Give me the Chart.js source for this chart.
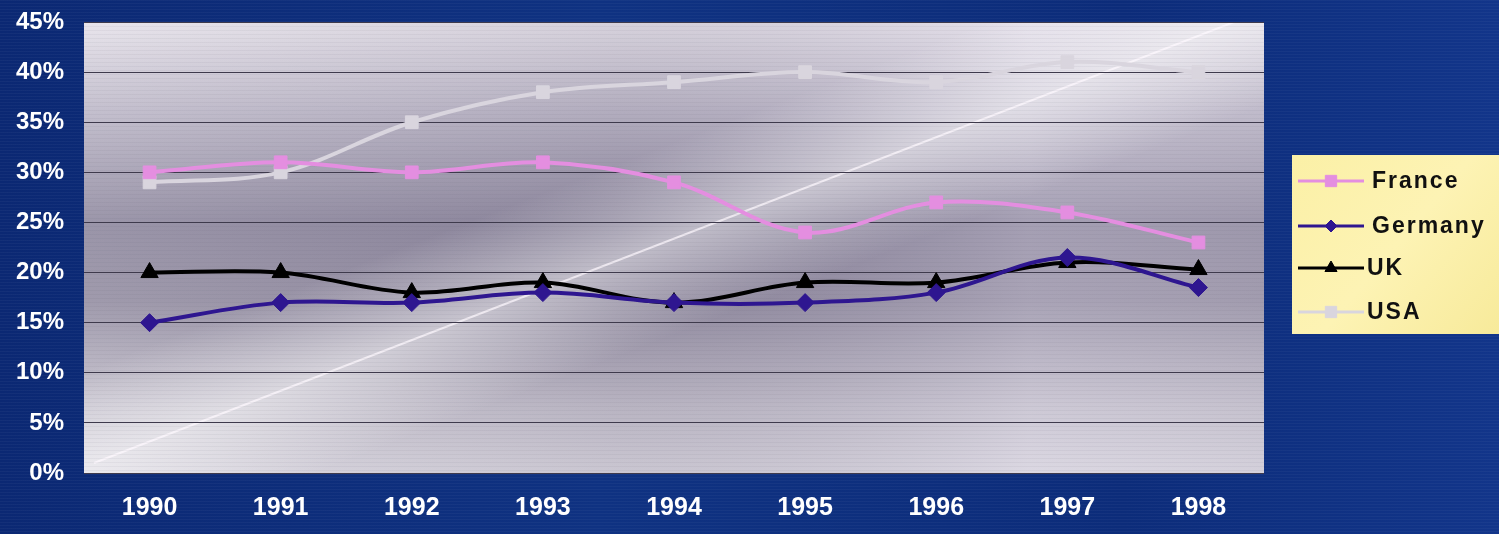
<!DOCTYPE html>
<html>
<head>
<meta charset="utf-8">
<script src="https://cdn.jsdelivr.net/npm/chart.js@4/dist/chart.umd.min.js"></script>
<style>
  html, body { margin: 0; padding: 0; }
  body {
    width: 1499px; height: 534px; overflow: hidden;
    background-color: #0c2b78;
    background-image:
      repeating-linear-gradient(180deg, rgba(255,255,255,0.035) 0px, rgba(255,255,255,0.035) 1px, rgba(0,0,0,0) 1px, rgba(0,0,0,0) 3px),
      linear-gradient(90deg, #0b2873 0%, #0f3282 40%, #0c2c7a 75%, #12358a 100%);
  }
  #wrap { position: absolute; left: 0; top: 0; width: 1499px; height: 534px; }
</style>
</head>
<body>
<div id="wrap"><canvas id="c" width="1499" height="534"></canvas></div>
<script>
const years = ['1990','1991','1992','1993','1994','1995','1996','1997','1998'];
const seriesNames = ['France', 'Germany', 'UK', 'USA'];
const france  = [30, 31, 30, 31, 29, 24, 27, 26, 23];
const germany = [15, 17, 17, 18, 17, 17, 18, 21.5, 18.5];
const uk      = [20, 20, 18, 19, 17, 19, 19, 21, 20.3];
const usa     = [29, 30, 35, 38, 39, 40, 39, 41, 40];
const yTicks  = [0, 5, 10, 15, 20, 25, 30, 35, 40, 45];

const colors  = ['#e48ee0', '#2e1690', '#000000', '#d9d5de'];
const markers = ['rect', 'rectRot', 'triangle', 'rect'];
const sizes   = [9, 9, 10, 9];
const legendSizes = [8, 6, 7, 8];

const plotBg = {
  id: 'plotBg',
  beforeDraw(chart) {
    const {ctx, chartArea: a} = chart;
    const w = a.right - a.left, h = a.bottom - a.top;
    ctx.save();
    let g = ctx.createLinearGradient(0, a.top, 0, a.bottom);
    g.addColorStop(0, '#e6e2ea');
    g.addColorStop(0.2, '#bdb8c8');
    g.addColorStop(0.45, '#8f899f');
    g.addColorStop(0.62, '#958fa3');
    g.addColorStop(0.85, '#c4c0cc');
    g.addColorStop(1, '#d8d5de');
    ctx.fillStyle = g;
    ctx.fillRect(a.left, a.top, w, h);
    g = ctx.createLinearGradient(a.left, 0, a.right, 0);
    g.addColorStop(0, 'rgba(255,255,255,0.10)');
    g.addColorStop(0.45, 'rgba(80,70,100,0.10)');
    g.addColorStop(0.8, 'rgba(230,225,240,0.25)');
    g.addColorStop(1, 'rgba(200,195,210,0.25)');
    ctx.fillStyle = g;
    ctx.fillRect(a.left, a.top, w, h);
    ctx.beginPath();
    ctx.rect(a.left, a.top, w, h);
    ctx.clip();
    const x0 = a.left + 10, y0 = a.bottom - 10, x1 = a.right - 30, y1 = a.top;
    const dx = x1 - x0, dy = y1 - y0, len = Math.hypot(dx, dy);
    const nx = -dy / len, ny = dx / len;
    const mx = (x0 + x1) / 2, my = (y0 + y1) / 2;
    g = ctx.createLinearGradient(mx - nx * 90, my - ny * 90, mx + nx * 90, my + ny * 90);
    g.addColorStop(0, 'rgba(255,255,255,0)');
    g.addColorStop(0.5, 'rgba(255,255,255,0.45)');
    g.addColorStop(1, 'rgba(255,255,255,0)');
    ctx.fillStyle = g;
    ctx.fillRect(a.left, a.top, w, h);
    ctx.strokeStyle = 'rgba(255,250,255,0.7)';
    ctx.lineWidth = 2;
    ctx.beginPath(); ctx.moveTo(x0, y0); ctx.lineTo(x1, y1); ctx.stroke();
    ctx.fillStyle = 'rgba(90,80,110,0.06)';
    for (let y = a.top; y < a.bottom; y += 4) ctx.fillRect(a.left, y, w, 1);
    ctx.restore();
  }
};

const legendBox = {
  id: 'legendBox',
  afterDraw(chart) {
    const ctx = chart.ctx;
    ctx.save();
    const bx = 1292, by = 155, bw = 210, bh = 179;
    const g = ctx.createLinearGradient(bx, by, bx + bw, by + bh);
    g.addColorStop(0, '#fbf0a6');
    g.addColorStop(0.5, '#fdf3b4');
    g.addColorStop(1, '#f7ea9a');
    ctx.fillStyle = g;
    ctx.fillRect(bx, by, bw, bh);
    const rows = [181, 226, 268, 312];
    chart.data.datasets.forEach((ds, i) => {
      const y = rows[i];
      ctx.strokeStyle = ds.borderColor;
      ctx.lineWidth = 3;
      ctx.beginPath(); ctx.moveTo(1298, y); ctx.lineTo(1364, y); ctx.stroke();
      ctx.fillStyle = ds.backgroundColor;
      ctx.strokeStyle = ds.borderColor;
      ctx.lineWidth = 1;
      Chart.helpers.drawPoint(ctx, {pointStyle: ds.pointStyle, radius: legendSizes[i], rotation: 0, borderWidth: 1}, 1331, y);
      ctx.fillStyle = '#111111';
      ctx.font = 'bold 23px "Liberation Sans", Arial, sans-serif';
      ctx.letterSpacing = '2px';
      ctx.textBaseline = 'middle';
      ctx.textAlign = 'left';
      ctx.fillText(ds.label, i >= 2 ? 1367 : 1372, y + 1);
    });
    ctx.restore();
  }
};

const datasets = [france, germany, uk, usa].map((arr, i) => ({
  label: seriesNames[i],
  data: arr,
  borderColor: colors[i],
  backgroundColor: colors[i],
  borderWidth: 4,
  pointStyle: markers[i],
  pointRadius: sizes[i],
  pointBorderWidth: 1,
  tension: 0.35,
  fill: false
}));

new Chart(document.getElementById('c'), {
  type: 'line',
  data: { labels: years, datasets },
  options: {
    responsive: false,
    animation: false,
    events: [],
    layout: { padding: { left: 0, right: 235, top: 22, bottom: 0 } },
    plugins: { legend: { display: false }, tooltip: { enabled: false } },
    scales: {
      x: {
        offset: true,
        grid: { display: false, drawTicks: false },
        border: { display: false },
        ticks: {
          color: '#ffffff', padding: 20,
          font: { family: '"Liberation Sans", Arial, sans-serif', weight: 'bold', size: 25 },
          maxRotation: 0
        },
        afterFit(s) { s.height = 61; s.paddingLeft = 0; s.paddingRight = 0; }
      },
      y: {
        min: 0, max: 45,
        afterBuildTicks(s) { s.ticks = yTicks.map(v => ({ value: v })); },
        grid: { color: '#3e3a4c', lineWidth: 1, drawTicks: false },
        border: { display: false },
        ticks: {
          color: '#ffffff', padding: 20,
          font: { family: '"Liberation Sans", Arial, sans-serif', weight: 'bold', size: 24 },
          callback: v => v + '%'
        },
        afterFit(s) { s.width = 84; s.paddingTop = 0; s.paddingBottom = 0; }
      }
    }
  },
  plugins: [plotBg, legendBox]
});
</script>
</body>
</html>
